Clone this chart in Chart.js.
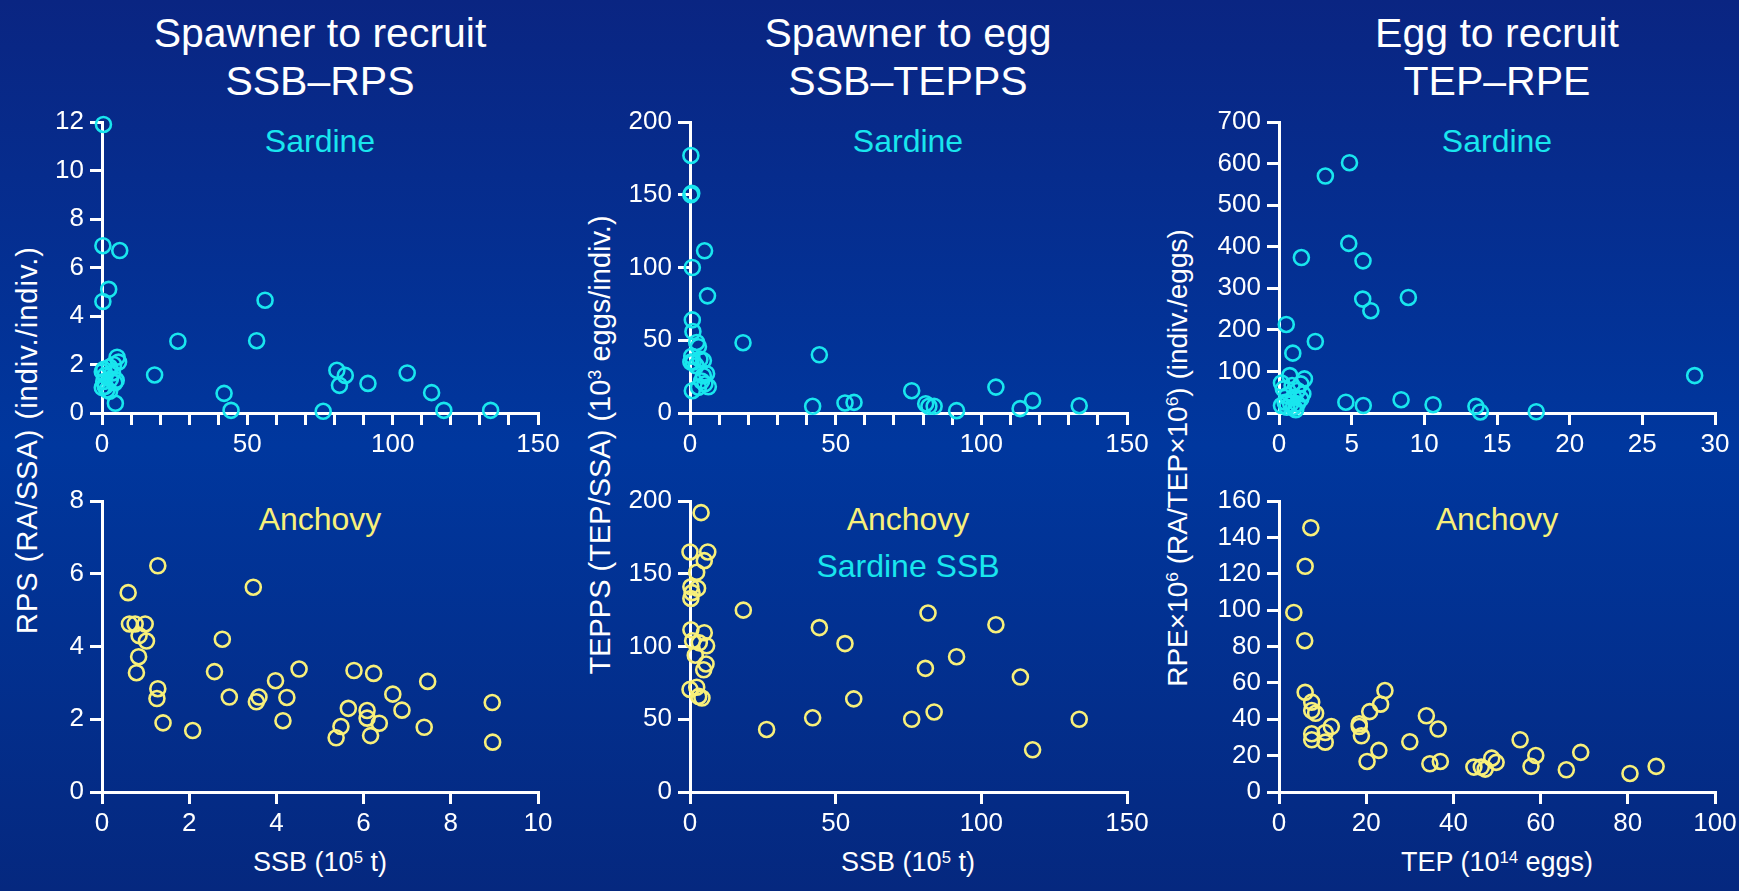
<!DOCTYPE html>
<html><head><meta charset="utf-8">
<script src="https://cdn.jsdelivr.net/npm/chart.js@4.4.1/dist/chart.umd.min.js"></script>
<style>
html,body{margin:0;padding:0;width:1739px;height:891px;overflow:hidden;}
body{background:linear-gradient(to bottom,#0a2582 0%,#00379e 50%,#05287f 100%);font-family:"Liberation Sans",Arial,sans-serif;position:relative;}
canvas{position:absolute;}
.t{position:absolute;transform:translate(-50%,-50%);white-space:nowrap;line-height:1;color:#fff;}
.r{transform:translate(-50%,-50%) rotate(-90deg);}
.sup{font-size:0.62em;position:relative;top:-0.5em;}
</style></head><body>
<div class="t" style="left:320px;top:33px;font-size:41px">Spawner to recruit</div>
<div class="t" style="left:320px;top:81px;font-size:41px">SSB–RPS</div>
<div class="t" style="left:908px;top:33px;font-size:41px">Spawner to egg</div>
<div class="t" style="left:908px;top:81px;font-size:41px">SSB–TEPPS</div>
<div class="t" style="left:1497px;top:33px;font-size:41px">Egg to recruit</div>
<div class="t" style="left:1497px;top:81px;font-size:41px">TEP–RPE</div>

<div class="t" style="left:320px;top:141px;font-size:32px;color:#19e6ee">Sardine</div>
<div class="t" style="left:908px;top:141px;font-size:32px;color:#19e6ee">Sardine</div>
<div class="t" style="left:1497px;top:141px;font-size:32px;color:#19e6ee">Sardine</div>
<div class="t" style="left:320px;top:519px;font-size:32px;color:#f8f07a">Anchovy</div>
<div class="t" style="left:908px;top:519px;font-size:32px;color:#f8f07a">Anchovy</div>
<div class="t" style="left:908px;top:566px;font-size:32px;color:#19e6ee">Sardine SSB</div>
<div class="t" style="left:1497px;top:519px;font-size:32px;color:#f8f07a">Anchovy</div>

<div class="t r" style="left:27px;top:440px;font-size:29px;letter-spacing:1px">RPS (RA/SSA) (indiv./indiv.)</div>
<div class="t r" style="left:600px;top:445px;font-size:29px">TEPPS (TEP/SSA) (10<span class="sup">3</span> eggs/indiv.)</div>
<div class="t r" style="left:1178px;top:458px;font-size:28px">RPE×10<span class="sup">6</span> (RA/TEP×10<span class="sup">6</span>) (indiv./eggs)</div>

<div class="t" style="left:320px;top:862px;font-size:27px">SSB (10<span class="sup">5</span> t)</div>
<div class="t" style="left:908px;top:862px;font-size:27px">SSB (10<span class="sup">5</span> t)</div>
<div class="t" style="left:1497px;top:862px;font-size:27px">TEP (10<span class="sup">14</span> eggs)</div>

<script>
// ---- Data ----
// Panel A: Sardine SSB (10^5 t) vs RPS
const sardineSsbA = [0.5,0.3,6.1,2.3,0.3,4.6,5.2,5.7,4.0,2.6,0.6,0.1,1.1,2.9,4.9,0.6,1.1,1.7,2.6,0.1,3.6,4.4,
  18.1,26.1,42.0,44.4,53.2,56.1,76.1,80.8,81.7,83.7,91.5,105.0,113.4,117.6,133.7];
const sardineRps = [11.9,6.9,6.7,5.1,4.6,0.4,2.3,2.1,2.0,1.9,1.8,1.7,1.55,1.4,1.35,1.3,1.1,0.95,0.9,1.05,1.65,1.25,
  1.57,2.96,0.81,0.11,2.98,4.65,0.07,1.76,1.14,1.55,1.22,1.65,0.84,0.11,0.11];

// Panel B: Anchovy SSB (10^5 t) vs RPS
const anchovySsbB = [0.6,1.28,0.63,0.76,0.99,0.85,1.02,0.84,0.79,1.28,1.26,1.40,2.08,2.58,2.76,2.92,3.47,3.60,3.54,3.98,
  4.15,4.24,4.52,5.37,5.48,5.65,5.78,6.08,6.08,6.16,6.23,6.36,6.67,6.88,7.39,7.47,8.95,8.96];
const anchovyRps = [5.48,6.22,4.62,4.62,4.62,4.30,4.15,3.72,3.28,2.84,2.57,1.90,1.69,3.31,4.20,2.61,5.63,2.61,2.48,3.06,
  1.96,2.60,3.38,1.49,1.80,2.30,3.34,2.24,2.03,1.55,3.26,1.89,2.69,2.25,1.78,3.04,2.46,1.37];

// Panel C: Sardine SSB (10^5 t) vs TEPPS
const sardineSsbC = [0.3,0.3,0.6,0.8,5.0,6.0,0.8,1.0,2.3,2.9,0.6,1.1,3.4,4.6,5.7,4.6,4.0,5.1,6.3,0.8,2.9,2.1,0.3,
  18.2,44.4,42.1,53.2,56.3,76.1,80.9,82.0,83.8,91.5,105.0,113.3,117.6,133.6];
const sardineTepps = [177,150,151,100,111.5,80.5,64,56,48.5,45.5,39,35,37,36,27,25.6,22,20,18,15.3,17.6,32.5,35,
  48.3,40,4.6,6.9,7.3,15.3,6.4,4.6,4.6,1.6,17.8,3,8.5,5];

// Panel D: Sardine SSB (10^5 t) vs Anchovy TEPPS
const sardineSsbD = [3.8,0,6.1,4.9,2.3,0.3,2.6,0.7,0.3,0.3,4.9,0.9,3.2,5.7,1.8,5.5,4.7,0,2.3,3.0,4.1,
  18.3,26.3,44.4,42.1,53.2,56.2,81.7,80.8,76.1,83.8,91.5,105.0,113.4,117.6,133.6];
const anchovyTepps = [192,165,165,159,151,141,140,137,133,111.5,109.5,104,102.5,100.5,94,88,84,70.5,72,65.7,64.6,
  125,43,113,51,102,64,123,85,50,55,93,115,79,29,50];

// Panel E: Sardine TEP (10^14 eggs) vs RPE x 10^6
const sardineTep = [4.85,3.19,4.8,1.54,5.78,5.76,6.32,8.9,0.5,2.5,0.95,0.74,1.75,28.6,4.6,5.8,8.4,10.6,13.55,13.85,17.7,
  0.17,0.3,0.9,1.5,1.27,0.54,1.0,1.64,0.42,0.8,1.27,1.5,0.54,1.0,0.17,1.15];
const sardineRpe = [602,570,408,374,366,274,246,278,213,172,144,90,82,90,26,18,32,20,16,2.5,3,
  72,58,66,70,54,42,38,46,26,22,22,34,14,14,18,8];

// Panel F: Anchovy TEP (10^14 eggs) vs RPE x 10^6
const anchovyTep = [3.4,6.0,7.3,5.9,6.0,7.5,7.5,8.4,7.5,7.5,10.6,10.6,12.0,18.4,18.4,18.9,20.2,20.8,22.9,23.3,24.3,
  30.0,33.8,34.6,36.5,37.0,44.7,46.4,47.3,48.8,49.8,55.3,57.8,58.9,65.9,69.2,80.5,86.5];
const anchovyRpe = [98.7,124.1,145.3,83.2,54.8,49.4,44.8,43.3,32,28.7,32.7,27.4,36,37.5,36,30.9,16.8,44.2,22.9,48.3,55.8,
  27.6,41.9,15.5,34.6,16.8,13.7,13.7,12.6,18.6,16.3,28.7,14.1,20.1,12.2,21.8,10.2,14.1];

// Tick labels
const ssbTickLabels = [0, 50, 100, 150];
const anchovySsbTickLabels = [0, 2, 4, 6, 8, 10];
const sardineTepTickLabels = [0, 5, 10, 15, 20, 25, 30];
const anchovyTepTickLabels = [0, 20, 40, 60, 80, 100];
const rpsSardineTicks = [0, 2, 4, 6, 8, 10, 12];
const rpsAnchovyTicks = [0, 2, 4, 6, 8];
const teppsTicks = [0, 50, 100, 150, 200];
const rpeSardineTicks = [0, 100, 200, 300, 400, 500, 600, 700];
const rpeAnchovyTicks = [0, 20, 40, 60, 80, 100, 120, 140, 160];

const CYAN = '#19e6ee';
const YELLOW = '#f8f07a';

Chart.defaults.font.family = "'Liberation Sans', Arial, sans-serif";
Chart.defaults.color = '#ffffff';

const Y_W = 90, PT = 30, PR = 40, X_H = 60;

function panel(box, xs, ys, color, xTicks, xStep, yTicks) {
  const c = document.createElement('canvas');
  const w = (box.r - box.l) + Y_W + PR;
  const h = (box.b - box.t) + PT + X_H;
  c.width = w; c.height = h;
  c.style.left = (box.l - Y_W) + 'px';
  c.style.top = (box.t - PT) + 'px';
  c.style.width = w + 'px'; c.style.height = h + 'px';
  document.body.appendChild(c);
  const pts = xs.map((x, i) => ({x: x, y: ys[i]}));
  const grid = {display: true, drawOnChartArea: false, drawTicks: true, tickLength: 12,
    tickWidth: 3, tickColor: '#ffffff', color: '#ffffff', lineWidth: 3};
  const border = {display: true, color: '#ffffff', width: 3};
  new Chart(c, {
    type: 'scatter',
    data: {datasets: [{data: pts, borderColor: color, backgroundColor: 'rgba(0,0,0,0)',
      pointStyle: 'circle', pointRadius: 7.5, pointBorderWidth: 2.6, clip: false}]},
    options: {
      responsive: false, animation: false, devicePixelRatio: 1, events: [],
      layout: {padding: {top: PT, right: PR, left: 0, bottom: 0}},
      plugins: {legend: {display: false}, tooltip: {enabled: false}},
      scales: {
        x: {type: 'linear', position: 'bottom', min: xTicks[0], max: xTicks[xTicks.length - 1],
          grid: grid, border: border,
          ticks: {stepSize: xStep, autoSkip: false, maxRotation: 0, minRotation: 0, padding: 4,
            color: '#ffffff', font: {size: 26},
            callback: v => xTicks.includes(v) ? String(v) : ''},
          afterFit: s => { s.height = X_H; }},
        y: {type: 'linear', min: yTicks[0], max: yTicks[yTicks.length - 1],
          grid: grid, border: border,
          ticks: {stepSize: yTicks[1] - yTicks[0], autoSkip: false, padding: 6, color: '#ffffff', font: {size: 26},
            callback: v => yTicks.includes(v) ? String(v) : ''},
          afterFit: s => { s.width = Y_W; }}
      }
    }
  });
}

panel({l: 102, r: 538, t: 122, b: 413}, sardineSsbA, sardineRps, CYAN, ssbTickLabels, 10, rpsSardineTicks);
panel({l: 102, r: 538, t: 501, b: 792}, anchovySsbB, anchovyRps, YELLOW, anchovySsbTickLabels, 2, rpsAnchovyTicks);
panel({l: 690, r: 1127, t: 122, b: 413}, sardineSsbC, sardineTepps, CYAN, ssbTickLabels, 10, teppsTicks);
panel({l: 690, r: 1127, t: 501, b: 792}, sardineSsbD, anchovyTepps, YELLOW, ssbTickLabels, 50, teppsTicks);
panel({l: 1279, r: 1715, t: 122, b: 413}, sardineTep, sardineRpe, CYAN, sardineTepTickLabels, 5, rpeSardineTicks);
panel({l: 1279, r: 1715, t: 501, b: 792}, anchovyTep, anchovyRpe, YELLOW, anchovyTepTickLabels, 20, rpeAnchovyTicks);
</script>
</body></html>
